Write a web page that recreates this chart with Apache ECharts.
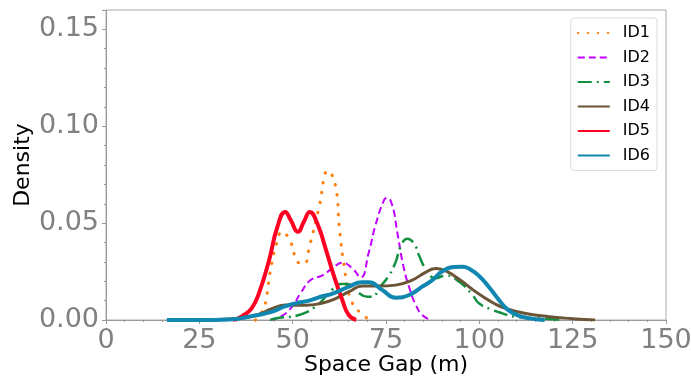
<!DOCTYPE html>
<html>
<head>
<meta charset="utf-8">
<script src="https://cdn.jsdelivr.net/npm/echarts@6/dist/echarts.min.js"></script>
<style>
  html, body { margin: 0; padding: 0; background: #fff; }
  #chart { width: 691px; height: 377px; }
</style>
</head>
<body>
<div id="chart"></div>
<script>
// density curves, [space gap (m), density]
const id1 = [[40, 0], [42, 0.005], [43, 0.012], [44, 0.025], [45.5, 0.038], [47.2, 0.0455], [49.5, 0.040],
  [51.3, 0.030], [53, 0.029], [54.5, 0.038], [57, 0.0575], [59.5, 0.077], [61.5, 0.069], [62.5, 0.048],
  [64, 0.025], [65.5, 0.011], [68.5, 0.003], [71, 0]];
const id2 = [[44, 0], [47, 0.002], [49.9, 0.007], [52.1, 0.0138], [54.8, 0.0206], [58, 0.023], [60.6, 0.0266],
  [63.3, 0.0295], [66, 0.0266], [68.2, 0.022], [70.4, 0.035], [72.2, 0.049], [74.5, 0.062], [75.3, 0.063],
  [76.7, 0.059], [78, 0.0455], [79.8, 0.0266], [81.6, 0.0146], [83, 0.0077], [84.7, 0.0026], [87, 0]];
const id3 = [[44, 0], [46, 0.001], [51.7, 0.0026], [56.2, 0.007], [59.7, 0.0138], [62.9, 0.0186], [64.6, 0.0186],
  [67.3, 0.0146], [70, 0.012], [71.5, 0.012], [73.1, 0.0163], [75.8, 0.023], [77.6, 0.030], [78.9, 0.0378],
  [80.7, 0.042], [82.5, 0.0395], [83.8, 0.0335], [85.6, 0.0266], [88.3, 0.0215], [91, 0.023], [94.6, 0.0197],
  [98.2, 0.0129], [99.9, 0.0086], [103.5, 0.0052], [106.2, 0.0034], [109.7, 0.0017], [118.7, 0.0005], [122, 0]];
const id4 = [[27.5, 0], [33, 0.0005], [36.5, 0.001], [41, 0.003], [44.6, 0.006], [48.1, 0.0077], [53.5, 0.0076],
  [58, 0.0088], [61.5, 0.011], [65.1, 0.0146], [68.7, 0.0175], [73, 0.0175], [77.6, 0.018], [82, 0.0206],
  [85.6, 0.0246], [88.3, 0.0266], [91, 0.0253], [94.6, 0.021], [98, 0.016], [101, 0.012], [104, 0.0085],
  [107, 0.006], [112.4, 0.0034], [118.7, 0.0017], [125, 0.0007], [131, 0]];
const id5 = [[34, 0], [36.5, 0.002], [39, 0.006], [41, 0.014], [43.7, 0.031], [45.9, 0.048], [48, 0.0558],
  [49.5, 0.0515], [51.4, 0.0455], [53, 0.0507], [54.6, 0.0558], [56.6, 0.0498], [58.8, 0.037], [61, 0.023],
  [63.3, 0.0103], [65, 0.0026], [67, 0]];
const id6 = [[16.3, 0], [25, 0], [33, 0.0003], [38.3, 0.0017], [44.6, 0.0043], [47.7, 0.0069], [50.8, 0.0086],
  [54.4, 0.01], [57.5, 0.012], [60.5, 0.0135], [65.1, 0.0172], [68.5, 0.0195], [70.4, 0.0195], [74, 0.0155],
  [77.6, 0.0115], [81.2, 0.0129], [84.7, 0.0172], [87.4, 0.0206], [90, 0.025], [93, 0.0273], [95.5, 0.0275],
  [97.5, 0.0262], [100, 0.0226], [102.5, 0.0172], [105, 0.011], [107.5, 0.0055], [110.5, 0.0022], [114, 0.0007],
  [117.5, 0]];

const names = ['ID1', 'ID2', 'ID3', 'ID4', 'ID5', 'ID6'];
const colors = ['#ff7f0e', '#bf00ff', '#119040', '#6b5536', '#ff0022', '#1087b0'];

const font = 'DejaVu Sans';
const grey = '#808080';

function makeSeries(name, data, color, width, dash, cap) {
  return {
    name: name,
    type: 'line',
    data: data,
    smooth: 0.5,
    symbol: 'none',
    color: color,
    itemStyle: { color: 'transparent', borderColor: 'transparent' },
    lineStyle: { color: color, width: width, type: dash, cap: cap || 'butt' }
  };
}

const chart = echarts.init(document.getElementById('chart'), null, { renderer: 'canvas' });

chart.setOption({
  animation: false,
  backgroundColor: '#fff',
  grid: {
    left: 106, right: 25, top: 10, bottom: 57,
    outerBoundsMode: 'none',
    show: true, borderColor: '#aaa', borderWidth: 1
  },
  legend: {
    orient: 'vertical',
    right: 34, top: 18,
    itemWidth: 32, itemHeight: 14, itemGap: 8.5,
    padding: [7, 7, 7, 6],
    backgroundColor: '#fff',
    borderColor: '#dcdcdc', borderWidth: 1, borderRadius: 3,
    itemStyle: { opacity: 0 },
    textStyle: { fontFamily: font, fontSize: 16, color: '#000', padding: [0, 0, 0, 8] },
    data: names
  },
  xAxis: {
    type: 'value',
    min: 0, max: 150, interval: 25,
    name: 'Space Gap (m)',
    nameLocation: 'middle',
    nameGap: 34,
    nameMoveOverlap: false,
    nameTextStyle: { fontFamily: font, fontSize: 22, color: '#000' },
    axisLine: { show: true, lineStyle: { color: '#999' } },
    axisTick: { show: true, length: 4, lineStyle: { color: '#999' } },
    minorTick: { show: true, splitNumber: 5, length: 2, lineStyle: { color: '#999' } },
    splitLine: { show: false },
    axisLabel: { fontFamily: font, fontSize: 27, color: grey, margin: 7 }
  },
  yAxis: {
    type: 'value',
    min: 0, max: 0.16, interval: 0.05,
    name: 'Density',
    nameLocation: 'middle',
    nameGap: 72,
    nameMoveOverlap: false,
    nameTextStyle: { fontFamily: font, fontSize: 22, color: '#000' },
    axisLine: { show: true, lineStyle: { color: '#999' } },
    axisTick: { show: true, length: 4, lineStyle: { color: '#999' } },
    minorTick: { show: true, splitNumber: 5, length: 2, lineStyle: { color: '#999' } },
    splitLine: { show: false },
    axisLabel: {
      fontFamily: font, fontSize: 27, color: grey, margin: 7,
      showMaxLabel: false,
      formatter: function (v) { return v.toFixed(2); }
    }
  },
  series: [
    makeSeries(names[0], id1, colors[0], 3, [0.5, 9.5], 'round'),
    makeSeries(names[1], id2, colors[1], 2, [7, 4]),
    makeSeries(names[2], id3, colors[2], 2.5, [14, 5, 2, 5]),
    makeSeries(names[3], id4, colors[3], 3, 'solid'),
    makeSeries(names[4], id5, colors[4], 4, 'solid'),
    makeSeries(names[5], id6, colors[5], 4, 'solid')
  ]
});
</script>
</body>
</html>
